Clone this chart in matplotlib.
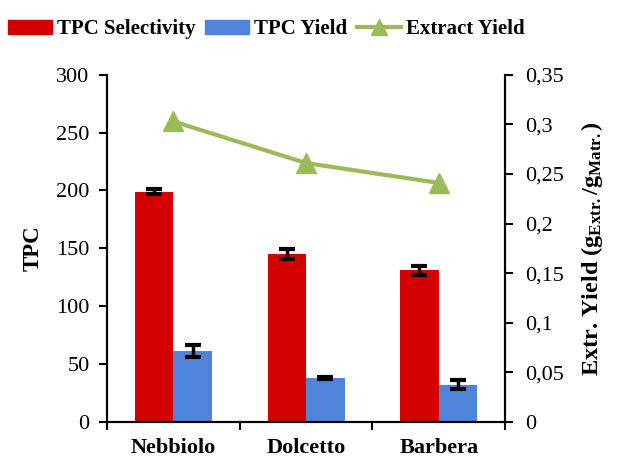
import numpy as np
import matplotlib.pyplot as plt
from matplotlib.patches import Patch
from matplotlib.lines import Line2D
from matplotlib.ticker import FuncFormatter

plt.rcParams['font.family'] = 'Liberation Serif'
plt.rcParams['mathtext.fontset'] = 'custom'
plt.rcParams['mathtext.rm'] = 'Liberation Serif:bold'
plt.rcParams['mathtext.it'] = 'Liberation Serif:bold'
plt.rcParams['mathtext.bf'] = 'Liberation Serif:bold'

cultivars = ['Nebbiolo', 'Dolcetto', 'Barbera']
tpc_selectivity = [199, 145, 131]
tpc_selectivity_err = [2, 4, 4]
tpc_yield = [61, 38, 32]
tpc_yield_err = [5, 1, 4]
extract_yield = [0.303, 0.261, 0.241]

red = '#D40000'
blue = '#5083DA'
green = '#9BBB59'

x = np.arange(len(cultivars))
w = 0.29

fig = plt.figure(figsize=(6.22, 4.59), dpi=100)
ax = fig.add_axes([0.172, 0.081, 0.640, 0.756])
ax2 = ax.twinx()

ebar = dict(ecolor='black', elinewidth=2.5, capsize=5.5, capthick=3)
ax.bar(x - w / 2, tpc_selectivity, w, color=red, yerr=tpc_selectivity_err,
       error_kw=ebar, zorder=2)
ax.bar(x + w / 2, tpc_yield, w, color=blue, yerr=tpc_yield_err,
       error_kw=ebar, zorder=2)
ax2.plot(x, extract_yield, color=green, lw=3, marker='^', ms=14)

ax.set_xlim(-0.5, 2.5)
ax.set_ylim(0, 300)
ax.set_yticks(range(0, 301, 50))
ax2.set_ylim(0, 0.35)
ax2.set_yticks(np.arange(0, 0.351, 0.05))
ax2.yaxis.set_major_formatter(
    FuncFormatter(lambda v, p: ('%g' % round(v, 2)).replace('.', ',')))

ax.set_xticks(x)
ax.set_xticklabels(cultivars, fontsize=16, fontweight='bold')
ax.set_xticks([-0.5, 0.5, 1.5, 2.5], minor=True)
ax.tick_params(axis='x', which='major', length=0, pad=12)
ax.tick_params(axis='x', which='minor', length=6, width=1.5)
ax.tick_params(axis='y', labelsize=16, length=6, width=1.5, pad=6.5)
ax2.tick_params(axis='y', labelsize=16, length=6, width=1.5, pad=8.5)

for a in (ax, ax2):
    a.spines['top'].set_visible(False)
    for s in ('left', 'right', 'bottom'):
        a.spines[s].set_linewidth(1.5)

ax.set_ylabel('TPC', fontsize=16.5, fontweight='bold', labelpad=9)
ax2.set_ylabel(r'Extr. Yield ($\mathrm{g_{Extr.}/g_{Matr.}}$)',
               fontsize=17.5, fontweight='bold', labelpad=11)

handles = [Patch(color=red), Patch(color=blue),
           Line2D([], [], color=green, lw=3, marker='^', ms=12)]
fig.legend(handles, ['TPC Selectivity', 'TPC Yield', 'Extract Yield'],
           loc='upper left', bbox_to_anchor=(-0.01, 0.99), ncol=3,
           frameon=False, handlelength=2.1, handletextpad=0.25,
           columnspacing=0.45, borderaxespad=0.3,
           prop=dict(size=15, weight='bold'))

fig.savefig('out.png', dpi=100)
